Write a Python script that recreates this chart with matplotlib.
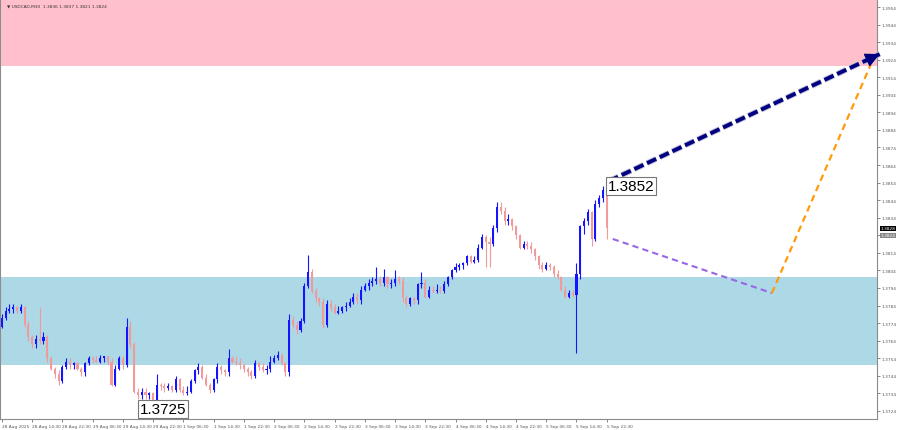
import numpy as np
import matplotlib
matplotlib.use("Agg")
import matplotlib.pyplot as plt
import matplotlib.patheffects as pe
from matplotlib.transforms import blended_transform_factory

# candle prices are in pips above this level (1 pip = 0.0001)
BASE = 1.3700

open_first = 72
close_pips = [77, 81, 82, 83, 81, 83, 73, 66, 62, 65,
              64, 66, 54, 48, 45, 41, 49, 52, 50, 51,
              48, 46, 51, 54, 53, 52, 54, 55, 52, 39,
              48, 54, 50, 72, 62, 35, 33, 35, 33, 34,
              30, 39, 38, 37, 38, 36, 42, 36, 34, 35,
              41, 47, 49, 43, 39, 36, 42, 49, 47, 46,
              54, 52, 51, 50, 48, 46, 44, 51, 49, 47,
              48, 52, 54, 56, 51, 46, 76, 73, 70, 75,
              95, 103, 92, 88, 86, 73, 85, 83, 80, 81,
              83, 84, 86, 89, 87, 93, 95, 97, 98, 99,
              97, 100, 96, 97, 99, 98, 88, 85, 88, 87,
              96, 97, 89, 93, 92, 93, 92, 96, 100, 104,
              106, 107, 108, 112, 109, 110, 117, 123, 120, 119,
              128, 140, 138, 132, 133, 129, 124, 117, 119, 118,
              116, 112, 107, 105, 107, 106, 102, 100, 93, 89,
              91, 90, 102, 129, 132, 137, 122, 142, 145, 150,
              128]
high_pips = [79, 83, 85, 85, 84, 85, 84, 75, 67, 67,
             83, 69, 67, 55, 49, 47, 50, 54, 54, 52,
             52, 49, 52, 55, 55, 55, 56, 55, 55, 54,
             50, 55, 55, 77, 75, 63, 37, 37, 37, 35,
             35, 45, 40, 40, 40, 39, 44, 43, 38, 38,
             42, 48, 51, 50, 45, 40, 43, 51, 50, 48,
             59, 55, 55, 54, 51, 49, 47, 53, 52, 51,
             50, 55, 56, 58, 57, 52, 79, 78, 75, 77,
             97, 113, 105, 94, 89, 88, 87, 87, 85, 84,
             84, 86, 88, 91, 91, 95, 97, 99, 100, 106,
             101, 105, 101, 99, 104, 101, 100, 90, 89, 89,
             97, 103, 99, 95, 95, 96, 95, 98, 101, 105,
             108, 108, 109, 113, 113, 112, 119, 125, 124, 123,
             130, 143, 143, 140, 136, 134, 130, 125, 121, 121,
             120, 117, 113, 109, 109, 108, 107, 104, 101, 95,
             93, 93, 108, 130, 134, 139, 138, 144, 147, 152,
             152]
low_pips = [71, 76, 80, 80, 80, 80, 72, 64, 60, 60,
            62, 62, 52, 47, 43, 39, 40, 48, 48, 48,
            47, 44, 44, 50, 51, 51, 51, 52, 50, 38,
            38, 47, 48, 49, 60, 34, 31, 31, 31, 31,
            25, 29, 36, 35, 36, 35, 35, 35, 33, 33,
            34, 40, 45, 42, 38, 34, 35, 40, 45, 44,
            44, 51, 50, 48, 46, 44, 42, 43, 47, 46,
            45, 46, 51, 53, 50, 44, 44, 71, 68, 69,
            74, 94, 91, 86, 84, 71, 72, 81, 79, 79,
            80, 81, 83, 85, 85, 85, 92, 93, 95, 96,
            95, 95, 94, 94, 95, 96, 86, 83, 84, 85,
            85, 94, 88, 88, 91, 91, 91, 91, 95, 99,
            103, 104, 105, 107, 108, 108, 109, 116, 106, 106,
            118, 126, 136, 130, 130, 127, 122, 116, 116, 116,
            114, 110, 105, 103, 104, 104, 100, 99, 92, 88,
            88, 89, 57, 99, 125, 130, 118, 121, 140, 143,
            122]

time_labels = ["28 Aug 2025", "28 Aug 14:30", "28 Aug 22:30", "29 Aug 06:30",
               "29 Aug 14:30", "29 Aug 22:30", "1 Sep 06:30", "1 Sep 14:30",
               "1 Sep 22:30", "2 Sep 06:30", "2 Sep 14:30", "2 Sep 22:30",
               "3 Sep 06:30", "3 Sep 14:30", "3 Sep 22:30", "4 Sep 06:30",
               "4 Sep 14:30", "4 Sep 22:30", "5 Sep 06:30", "5 Sep 14:30",
               "5 Sep 22:30"]
bars_per_label = 8

resistance_zone = (1.39205, 1.3965)
support_zone = (1.3750, 1.38002)

# forecast path: (bar index, price)
path_purple = ([161.6, 203.7], [1.38219, 1.37911])
path_orange = ([203.7, 229.9], [1.37911, 1.39215])
path_navy = ([160.6, 232.2], [1.38549, 1.39272])

marks = [(160.3, 1.38521, "1.3852", "left"), (42.6, 1.37251, "1.3725", "center")]
bid_price, ask_label = 1.3828, 1.3824
title = "\u25bc USDCAD,M30  1.3836 1.3837 1.3821 1.3824"

close = BASE + np.array(close_pips) / 1e4
high = BASE + np.array(high_pips) / 1e4
low = BASE + np.array(low_pips) / 1e4
opn = np.concatenate([[BASE + open_first / 1e4], close[:-1]])
idx = np.arange(len(close))
up = close >= opn

bull, bear = "#1414ff", "#f29a9a"
small = 3.1

fig = plt.figure(figsize=(9, 4.31), dpi=100)
ax = fig.add_axes([0.0, 11 / 431, 877 / 900, 420 / 431])
ax.set_xlim(-0.5, 231.5)
ax.set_ylim(1.371937, 1.395856)

ax.axhspan(*resistance_zone, color="#ffc0cb", zorder=0, lw=0)
ax.axhspan(*support_zone, color="#add8e6", zorder=0, lw=0)

colors = np.where(up, bull, bear)
ax.vlines(idx, low, high, colors=colors, lw=0.8, zorder=2)
ax.bar(idx, close - opn, bottom=opn, width=0.55, color=colors, lw=0, zorder=2)

ax.plot(*path_purple, color="#9a66e6", lw=1.5, ls=(0, (3, 2)), zorder=3)
ax.plot(*path_orange, color="#ff9a0a", lw=1.6, ls=(0, (3, 2)), zorder=3)
nx, ny = path_navy
ax.plot(nx, ny, color="#000080", lw=2.8, ls=(0, (2.6, 1.0)), zorder=3,
        solid_capstyle="butt", clip_on=False,
        path_effects=[pe.Stroke(linewidth=4.2, foreground="#c0c0d8"), pe.Normal()])
back = (nx[1] - (nx[1] - nx[0]) * 0.02, ny[1] - (ny[1] - ny[0]) * 0.02)
ax.annotate("", xy=(nx[1], ny[1]), xytext=back, annotation_clip=False,
            arrowprops=dict(arrowstyle="-|>", color="#000080", lw=1,
                            mutation_scale=22, shrinkA=0, shrinkB=0), zorder=4)

for x, y, txt, ha in marks:
    ax.text(x, y, txt, ha=ha, va="center", fontsize=11, family="Liberation Sans",
            zorder=5, bbox=dict(boxstyle="square,pad=0.12", fc="white", ec="#777777", lw=0.8))

ax.text(0.008, 0.99, title, transform=ax.transAxes, fontsize=small, va="top",
        color="#333333")

# axes and ticks
ax.set_xticks(np.arange(len(time_labels)) * bars_per_label)
ax.set_xticklabels(time_labels, ha="left")
yt = np.arange(1.3724, 1.39545, 0.001)
ax.set_yticks(yt)
ax.set_yticklabels(["%.4f" % v for v in yt])
ax.yaxis.tick_right()
ax.tick_params(axis="both", labelsize=small, colors="#555555", length=2, width=0.5, pad=1.5)
for s in ax.spines.values():
    s.set_color("#8c8c8c")
    s.set_linewidth(0.8)
ax.spines["top"].set_color("#dddddd")

tr = blended_transform_factory(ax.transAxes, ax.transData)
ax.text(1.004, bid_price, "%.4f" % bid_price, transform=tr, fontsize=small, color="white",
        va="center", ha="left", bbox=dict(boxstyle="square,pad=0.15", fc="black", ec="none"))
ax.text(1.004, ask_label, "%.4f" % ask_label, transform=tr, fontsize=small, color="white",
        va="center", ha="left", bbox=dict(boxstyle="square,pad=0.15", fc="#888888", ec="none"))

fig.savefig("out.png", dpi=100)
